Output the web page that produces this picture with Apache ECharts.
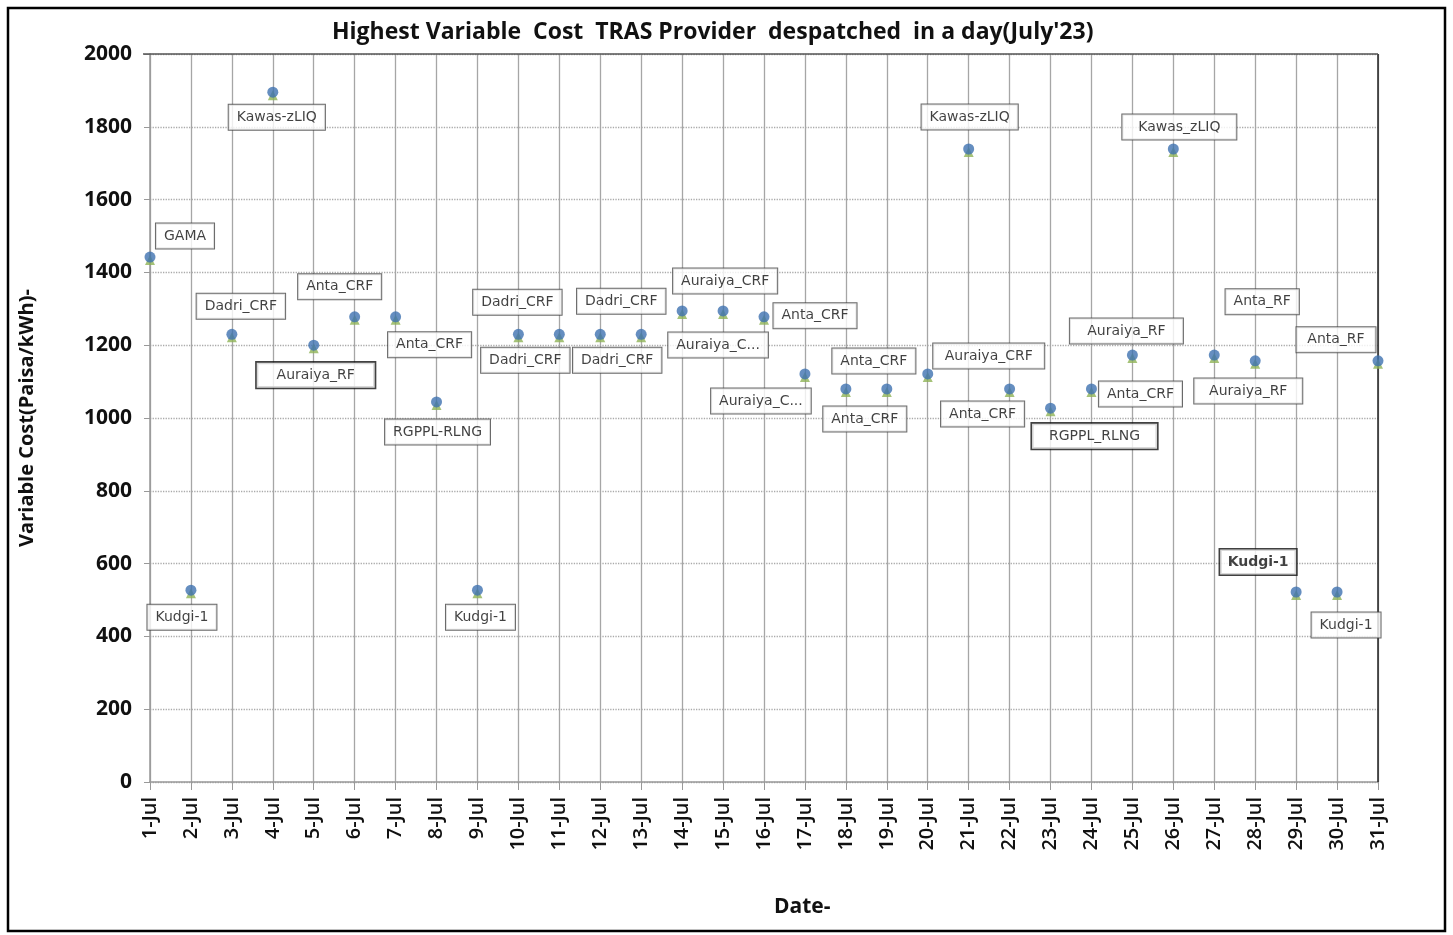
<!DOCTYPE html>
<html style="height: 100%">
<head>
  <meta charset="UTF-8" />
  <title>TRAS Variable Cost</title>
  <script src="https://cdn.jsdelivr.net/npm/echarts@6/dist/echarts.min.js"></script>
</head>
<body style="height: 100%; margin: 0; background: #fff">
  <div id="container" style="width: 1453px; height: 935px"></div>
  <script>
    const days = [];
    for (let d = 1; d <= 31; d++) days.push(d + '-Jul');

    const costs = [1442, 527, 1230, 1895, 1200, 1278, 1278, 1044, 527, 1230,
      1230, 1230, 1230, 1294, 1294, 1278, 1121, 1080, 1080, 1121,
      1739, 1080, 1027, 1080, 1173, 1739, 1173, 1157, 522, 522, 1157];

    const providers = ['GAMA', 'Kudgi-1', 'Dadri_CRF', 'Kawas-zLIQ', 'Auraiya_RF', 'Anta_CRF',
      'Anta_CRF', 'RGPPL-RLNG', 'Kudgi-1', 'Dadri_CRF', 'Dadri_CRF', 'Dadri_CRF', 'Dadri_CRF',
      'Auraiya_CRF', 'Auraiya_C...', 'Anta_CRF', 'Auraiya_C...', 'Anta_CRF', 'Anta_CRF',
      'Auraiya_CRF', 'Kawas-zLIQ', 'Anta_CRF', 'RGPPL_RLNG', 'Anta_CRF', 'Auraiya_RF',
      'Kawas_zLIQ', 'Auraiya_RF', 'Anta_RF', 'Kudgi-1', 'Kudgi-1', 'Anta_RF'];

    // where each label box sits relative to its point (px)
    const labelOffsets = [[35, -21], [-9, 27], [9, -28], [4, 25], [2, 30], [-15, -30],
      [34, 28], [1, 30], [3, 27], [-1, -32], [-34, 26], [21, -33], [-24, 26],
      [43, -30], [-5, 34], [51, -1], [-44, 27], [28, -28], [-22, 30],
      [61, -18], [1, -32], [-27, 25], [44, 28], [49, 5], [-6, -24],
      [6, -22], [34, 36], [7, -59], [-38, -30], [9, 33], [-42, -21]];
    const wideBox = { 4: 120, 22: 127, 26: 110, 24: 115, 25: 116, 28: 78, 30: 81, 19: 113 };
    const thickBox = [4, 22, 28];

    const pointData = costs.map((v, i) => {
      const item = {
        value: v,
        label: { show: true, formatter: providers[i] }
      };
      if (wideBox[i]) {
        item.label.width = wideBox[i] - 18;
        item.label.align = 'center';
      }
      if (thickBox.indexOf(i) >= 0) {
        item.label.borderWidth = 1.6;
        item.label.borderColor = '#111';
      }
      if (i === 28) item.label.fontWeight = 'bold';
      return item;
    });

    const chart = echarts.init(document.getElementById('container'), null, { renderer: 'canvas' });
    const option = {
      animation: false,
      backgroundColor: '#fff',
      title: {
        text: "Highest Variable  Cost  TRAS Provider  despatched  in a day(July'23)",
        left: 327,
        top: 16,
        textStyle: { fontFamily: 'Open Sans', fontSize: 23, fontWeight: 'bold', color: '#111' }
      },
      graphic: [
        {
          type: 'rect',
          shape: { x: 8, y: 8, width: 1437, height: 923 },
          style: { fill: 'none', stroke: '#000', lineWidth: 2.5 }
        },
        {
          type: 'text',
          left: 774,
          top: 897,
          style: { text: 'Date-', font: 'bold 21px "Open Sans"', fill: '#111' }
        },
        {
          type: 'line',
          shape: { x1: 1378, y1: 54, x2: 1378, y2: 782 },
          style: { stroke: '#222', lineWidth: 1.5 },
          z: 1
        },
        {
          type: 'line',
          shape: { x1: 143, y1: 54, x2: 1378, y2: 54 },
          style: { stroke: '#555', lineWidth: 1.5 },
          z: 1
        }
      ],
      grid: { left: 150, right: 75, top: 54, bottom: 153 },
      xAxis: {
        type: 'category',
        data: days,
        boundaryGap: false,
        axisLine: { show: true, lineStyle: { color: '#999', width: 1.5 } },
        axisTick: { show: true, length: 8, lineStyle: { color: '#999' } },
        axisLabel: {
          rotate: 90,
          margin: 15,
          interval: 0,
          fontFamily: 'Open Sans',
          fontSize: 20,
          fontWeight: 600,
          color: '#111'
        },
        splitLine: { show: true, lineStyle: { color: '#a6a6a6', width: 1.3 } }
      },
      yAxis: {
        type: 'value',
        min: 0,
        max: 2000,
        interval: 200,
        name: 'Variable Cost(Paisa/kWh)-',
        nameLocation: 'middle',
        nameGap: 113,
        nameTextStyle: { fontFamily: 'Open Sans', fontSize: 20, fontWeight: 'bold', color: '#111' },
        axisLine: { show: true, lineStyle: { color: '#999', width: 1.5 } },
        axisTick: { show: true, length: 6, lineStyle: { color: '#999' } },
        axisLabel: {
          margin: 18,
          formatter: v => String(v),
          fontFamily: 'Open Sans',
          fontSize: 21,
          fontWeight: 'bold',
          color: '#111'
        },
        splitLine: { show: true, lineStyle: { color: '#aaa', type: 'dotted', width: 1.3 } }
      },
      series: [
        {
          type: 'scatter',
          data: costs,
          symbol: 'triangle',
          symbolSize: 10,
          symbolOffset: [0, 3],
          itemStyle: { color: '#8fb356' },
          silent: true,
          z: 2
        },
        {
          type: 'scatter',
          data: pointData,
          symbol: 'circle',
          symbolSize: 11,
          itemStyle: { color: '#3f72b0' },
          label: {
            position: 'inside',
            fontFamily: 'Verdana, "DejaVu Sans"',
            fontSize: 14,
            color: '#111',
            backgroundColor: '#fff',
            borderColor: '#444',
            borderWidth: 1,
            padding: [6, 8, 5, 8]
          },
          labelLayout: params => ({
            dx: labelOffsets[params.dataIndex][0],
            dy: labelOffsets[params.dataIndex][1],
            hideOverlap: false
          }),
          z: 3
        }
      ]
    };
    chart.setOption(option);
  </script>
</body>
</html>
